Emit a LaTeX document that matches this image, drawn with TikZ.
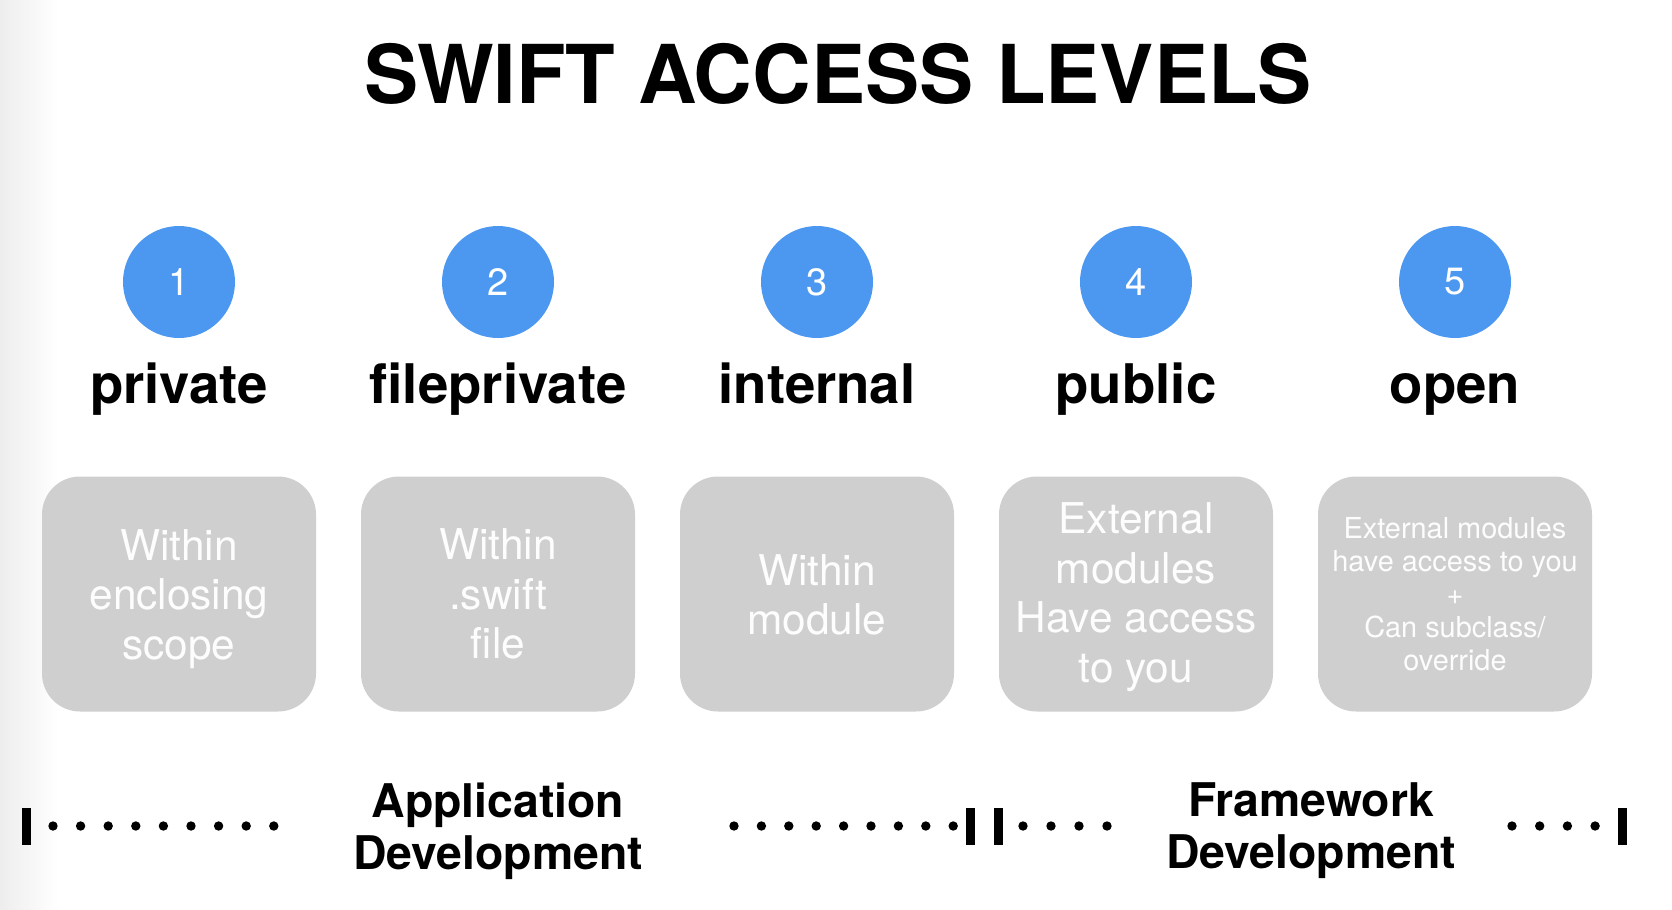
\documentclass[tikz,border=0pt]{standalone}
\usepackage{fontspec}
\setmainfont{TeX Gyre Heros}
\definecolor{swblue}{RGB}{76,152,241}
\definecolor{boxgray}{RGB}{207,207,207}
\definecolor{boxtext}{RGB}{253,253,253}
\begin{document}
\begin{tikzpicture}[x=0.5pt,y=-0.5pt,
  num/.style={circle, fill=swblue, minimum size=56pt, inner sep=0pt, text=white, font=\fontsize{19}{19}\selectfont},
  lvl/.style={anchor=base, inner sep=0pt, font=\bfseries\fontsize{27.3}{27.3}\selectfont},
  descbox/.style={rectangle, rounded corners=19pt, fill=boxgray, minimum width=137pt, minimum height=117.5pt, inner sep=0pt},
  desctext/.style={inner sep=0pt, text=boxtext, align=center, font=\fontsize{21.2}{24.8}\selectfont},
  smalltext/.style={desctext, font=\fontsize{14.45}{16.5}\selectfont},
  bottomlbl/.style={inner sep=0pt, align=center, font=\bfseries\fontsize{23.2}{26}\selectfont},
  bar/.style={fill=black},
  dotmark/.style={fill=black}]
\useasboundingbox (0,0) rectangle (1672,910);
\fill[white] (0,0) rectangle (1672,910);
\shade[left color=black!7, right color=white] (0,0) rectangle (58,910);

% title
\node[anchor=base, inner sep=0pt, font=\bfseries\fontsize{40.6}{40.6}\selectfont] (title) at (838,103) {SWIFT ACCESS LEVELS};

% numbered circles
\node[num] (n1) at (179,282) {1};
\node[num] (n2) at (498,282) {2};
\node[num] (n3) at (817,282) {3};
\node[num] (n4) at (1136,282) {4};
\node[num] (n5) at (1455,282) {5};

% level names
\node[lvl] (l1) at (179,403) {private};
\node[lvl] (l2) at (498,403) {fileprivate};
\node[lvl] (l3) at (817,403) {internal};
\node[lvl] (l4) at (1136,403) {public};
\node[lvl] (l5) at (1455,403) {open};

% description boxes
\node[descbox] (d1) at (179,594) {};
\node[descbox] (d2) at (498,594) {};
\node[descbox] (d3) at (817,594) {};
\node[descbox] (d4) at (1136,594) {};
\node[descbox] (d5) at (1455,594) {};
\node[desctext] (t1) at ([yshift=-2.5pt]d1.center) {Within\\enclosing\\scope};
\node[desctext] (t2) at (d2.center) {Within\\.swift\\file};
\node[desctext] (t3) at ([yshift=-0.5pt]d3.center) {Within\\module};
\node[desctext] (t4) at ([yshift=-1.5pt]d4.center) {External\\modules\\Have access\\to you};
\node[smalltext] (t5) at (d5.center) {External modules\\have access to you\\+\\Can subclass/\\override};

% bottom labels
\node[bottomlbl] (app) at (498,831) {Application\\Development};
\node[bottomlbl] (fw) at (1311,831) {Framework\\Development};

% dotted ranges
\fill[bar] (22,808) rectangle (31,845);
\foreach \i in {0,...,8} \fill[dotmark] (53+27.6*\i,826) circle (4.7);
\foreach \i in {0,...,8} \fill[dotmark] (734+27.4*\i,826) circle (4.7);
\fill[bar] (965.5,808) rectangle (974.5,845);
\fill[bar] (993.5,808) rectangle (1002.5,845);
\foreach \i in {0,...,3} \fill[dotmark] (1023+28*\i,826) circle (4.7);
\foreach \i in {0,...,3} \fill[dotmark] (1512+27.7*\i,826) circle (4.7);
\fill[bar] (1617.5,808) rectangle (1626.5,845);
\end{tikzpicture}
\end{document}
